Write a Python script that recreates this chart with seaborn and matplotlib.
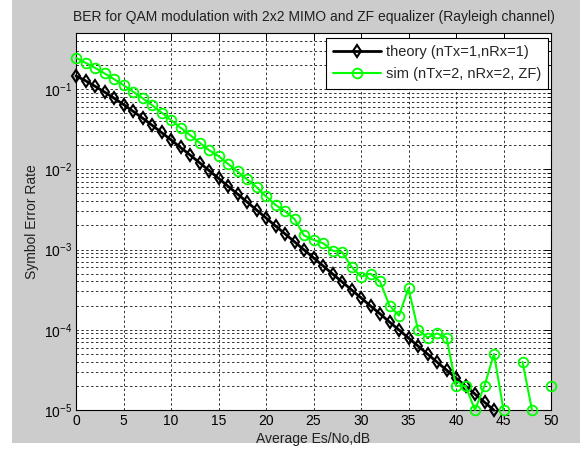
import numpy as np
import pandas as pd
import matplotlib
matplotlib.use("Agg")
import matplotlib.pyplot as plt
from matplotlib.patches import Rectangle
from matplotlib.lines import Line2D
from matplotlib.ticker import LogLocator, NullFormatter, MultipleLocator
import seaborn as sns

# ---- data ----
snr_db = list(range(0, 51))

theory_ser = [0.146, 0.127, 0.1085, 0.0919, 0.0771, 0.0642, 0.053, 0.0435, 0.0355, 0.0288,
              0.0233, 0.0187, 0.0151, 0.0121, 0.00966, 0.00772, 0.00616, 0.00492, 0.00392, 0.00312,
              0.00248, 0.00197, 0.00157, 0.00125, 0.000992, 0.000789, 0.000627, 0.000498, 0.000396, 0.000315,
              0.00025, 0.000198, 0.000158, 0.000125, 9.95e-5, 7.9e-5, 6.28e-5, 4.99e-5, 3.96e-5, 3.15e-5,
              2.5e-5, 1.99e-5, 1.58e-5, 1.25e-5, 9.95e-6, 7.9e-6, 6.3e-6, 5.0e-6, 4.0e-6, 3.1e-6, 2.5e-6]

sim_ser = [0.245, 0.213, 0.184, 0.157, 0.133, 0.112, 0.093, 0.077, 0.063, 0.051,
           0.041, 0.033, 0.0268, 0.0215, 0.0173, 0.0146, 0.0117, 0.0094, 0.0075, 0.006,
           0.0046, 0.0036, 0.003, 0.0024, 0.0015, 0.00132, 0.0012, 0.00097, 0.00093, 0.00061,
           0.00046, 0.0005, 0.0004, 0.0002, 0.00015, 0.00033, 0.0001, 8e-5, 9e-5, 8e-5,
           2e-5, 2e-5, 1e-5, 2e-5, 5e-5, 1e-5, np.nan, 4e-5, 1e-5, np.nan, 2e-5]

x_ticks = [0, 5, 10, 15, 20, 25, 30, 35, 40, 45, 50]
legend_labels = ["theory (nTx=1,nRx=1)", "sim (nTx=2, nRx=2, ZF)"]
title_text = "BER for QAM modulation with 2x2 MIMO and ZF equalizer (Rayleigh channel)"

Y_MIN, Y_MAX = 1e-5, 0.5

# ---- frames ----
theory_df = pd.DataFrame({"snr": snr_db, "ser": theory_ser})
theory_df = theory_df[theory_df["ser"] >= Y_MIN * 0.99]   # part that is inside the axes
sim_df = pd.DataFrame({"snr": snr_db, "ser": sim_ser})
sim_df["seg"] = sim_df["ser"].isna().cumsum()
sim_df = sim_df.dropna()

sns.set_theme(style="white")
plt.rcParams["font.family"] = ["Liberation Sans", "DejaVu Sans"]
plt.rcParams["mathtext.fontset"] = "custom"
plt.rcParams["mathtext.rm"] = "Liberation Sans"
plt.rcParams["mathtext.it"] = "Liberation Sans"

fig = plt.figure(figsize=(5.84, 4.5), dpi=100, facecolor="white")
fig.patches.append(Rectangle((12 / 584, 1 - 443 / 450), (580 - 12) / 584, 443 / 450,
                             transform=fig.transFigure, facecolor="#cccccc",
                             edgecolor="none", zorder=-10))
ax = fig.add_axes([76 / 584, 1 - 410 / 450, (551 - 76) / 584, (410 - 33) / 450])
ax.set_facecolor("white")

green = "#00ff00"
sns.lineplot(data=theory_df, x="snr", y="ser", ax=ax, color="black", linewidth=2,
             marker="d", markersize=6, markerfacecolor="none", markeredgecolor="black",
             markeredgewidth=1.5, legend=False, zorder=3, clip_on=False)
sns.lineplot(data=sim_df, x="snr", y="ser", units="seg", estimator=None, ax=ax,
             color=green, linewidth=1.5, marker="o", markersize=7,
             markerfacecolor="none", markeredgecolor=green, markeredgewidth=1.3,
             legend=False, zorder=4, clip_on=False)

ax.set_yscale("log")
ax.set_xlim(0, 50)
ax.set_ylim(Y_MIN, Y_MAX)
ax.set_xticks(x_ticks)
ax.xaxis.set_minor_locator(MultipleLocator(50))
ax.yaxis.set_major_locator(LogLocator(base=10, numticks=10))
ax.yaxis.set_minor_locator(LogLocator(base=10, subs=np.arange(2, 10), numticks=20))
ax.yaxis.set_minor_formatter(NullFormatter())

ax.grid(True, which="major", axis="both", color="#303030", linestyle=(0, (2.5, 2.5)), linewidth=0.7)
ax.grid(True, which="minor", axis="y", color="#303030", linestyle=(0, (2.5, 2.5)), linewidth=0.7)
ax.tick_params(which="both", direction="in", top=True, right=True, colors="black",
               labelsize=10, pad=3)
ax.tick_params(which="major", length=5, width=0.7)
ax.tick_params(which="minor", length=3, width=0.6)
ax.tick_params(axis="x", which="minor", length=0)
for s in ax.spines.values():
    s.set_color("black")
    s.set_linewidth(0.8)

ax.set_xlabel("Average Es/No,dB", fontsize=10, labelpad=3, color="#202020")
ax.set_ylabel("Symbol Error Rate", fontsize=10, labelpad=3, color="#202020")
ax.set_title(title_text, fontsize=10, pad=9, color="#202020")

handles = [
    Line2D([], [], color="black", linewidth=2, marker="d", markersize=6,
           markerfacecolor="none", markeredgecolor="black", markeredgewidth=1.5),
    Line2D([], [], color=green, linewidth=1.5, marker="o", markersize=7,
           markerfacecolor="none", markeredgecolor=green, markeredgewidth=1.3),
]
leg = ax.legend(handles, legend_labels, loc="upper right", bbox_to_anchor=(0.994, 0.987),
                fontsize=10.5, frameon=True, fancybox=False, edgecolor="black",
                framealpha=1, handlelength=3.3, borderpad=0.5, labelspacing=0.55,
                handletextpad=0.3, borderaxespad=0)
leg.get_frame().set_linewidth(0.8)

fig.savefig("out.png", dpi=100, facecolor=fig.get_facecolor())
